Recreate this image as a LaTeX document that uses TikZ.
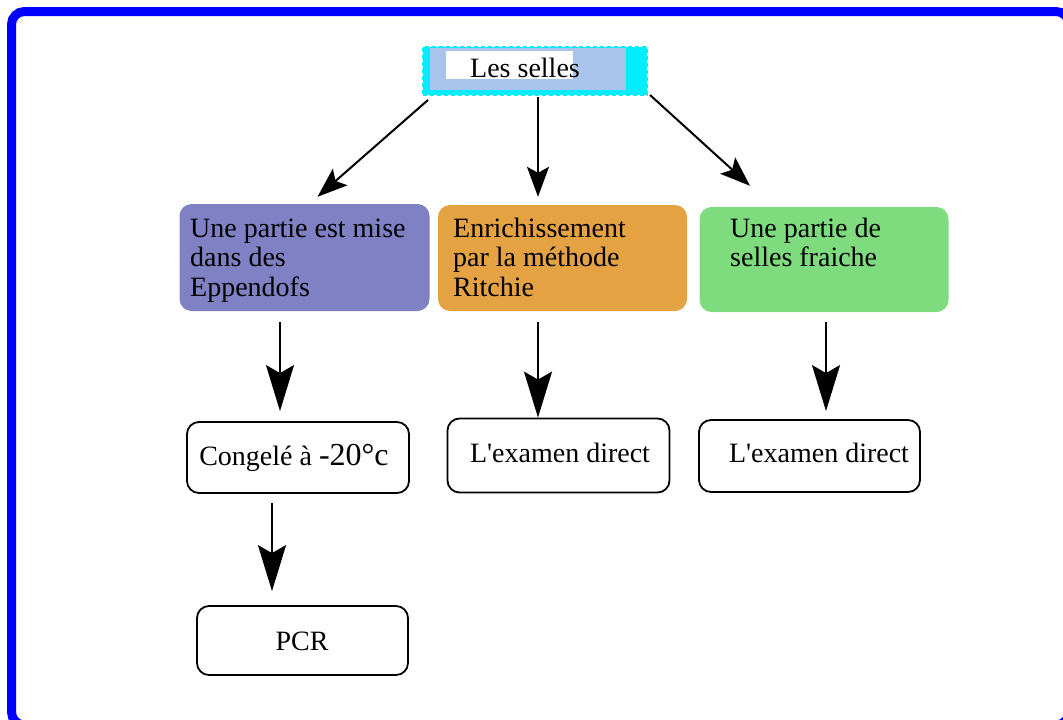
\documentclass[tikz,border=0pt]{standalone}
\usepackage{fontspec}
\setmainfont{Liberation Serif}[Ligatures=TeXOff]
\usetikzlibrary{arrows.meta}
\definecolor{frameblue}{RGB}{0,0,255}
\definecolor{cyanc}{RGB}{0,238,255}
\definecolor{lightbl}{RGB}{168,196,236}
\definecolor{purp}{RGB}{128,128,196}
\definecolor{orng}{RGB}{228,162,66}
\definecolor{grn}{RGB}{126,220,126}
\tikzset{
  cbox/.style={rounded corners=12pt, inner sep=0pt},
  wbox/.style={draw=black, line width=1.8pt, rounded corners=12pt, fill=white, inner sep=0pt},
  ctext/.style={anchor=north west, inner sep=0pt, align=left, font=\fontsize{28}{29.5}\selectfont},
  ltext/.style={anchor=base, inner sep=0pt, font=\fontsize{28}{30}\selectfont},
  arrS/.style={-{Stealth[length=30pt,width=22pt,inset=6pt]}, line width=2pt},
  arrL/.style={-{Stealth[length=46pt,width=28pt,inset=8pt]}, line width=2pt}
}
\begin{document}
\begin{tikzpicture}[x=1pt,y=-1pt]
\useasboundingbox (0,0) rectangle (1063,720);
\begin{scope}
\clip (0,0) rectangle (1063,720);
\draw[frameblue, line width=9pt, rounded corners=13pt] (11.5,11.5) rectangle (1069,725);
\end{scope}

% top box
\node[draw=cyanc, fill=cyanc, dash pattern=on 4pt off 3pt, line width=2pt,
      minimum width=224pt, minimum height=48pt, inner sep=0pt] (top) at (535,71) {};
\fill[lightbl] (430,48) rectangle (626,90);
\fill[white] (446,51) rectangle (573,79);
\node[ltext] (sel) at (525,77.5) {Les selles};

% coloured boxes
\node[cbox, fill=purp, minimum width=250pt, minimum height=107pt] (p) at (304.5,257.5) {};
\node[cbox, fill=orng, minimum width=249pt, minimum height=106pt] (o) at (562.5,258) {};
\node[cbox, fill=grn, minimum width=249pt, minimum height=105pt] (g) at (824,259.5) {};
\node[ctext] (pt) at (190,217) {\rule{0pt}{20pt}Une partie est mise\\dans des\\Eppendofs};
\node[ctext] (ot) at (453,217) {\rule{0pt}{20pt}Enrichissement\\par la méthode\\Ritchie};
\node[ctext] (gt) at (730,217) {\rule{0pt}{20pt}Une partie de\\selles fraiche};

% white boxes
\node[wbox, minimum width=222pt, minimum height=71pt] (c) at (298,457.5) {};
\node[wbox, minimum width=211pt, minimum height=69pt] (pcr) at (302.5,640.5) {};
\node[wbox, minimum width=222pt, minimum height=74pt] (e1) at (558.5,455.5) {};
\node[wbox, minimum width=221pt, minimum height=72pt] (e2) at (809.5,456) {};
\node[ltext] (ct) at (294,465) {Congelé à {\fontsize{32}{34}\selectfont -20°c}};
\node[ltext] (pcrt) at (302,650) {PCR};
\node[ltext] (e1t) at (560,462) {L'examen direct};
\node[ltext] (e2t) at (819,462) {L'examen direct};

% arrows
\draw[arrS] ([shift={(6,4)}]top.south west) -- ([shift={(13,-7)}]p.north);
\draw[arrS] ([shift={(3,1)}]top.south) -- ([shift={(-24.5,-8)}]o.north);
\draw[arrS] ([shift={(2,-1)}]top.south east) -- ([shift={(-74,-21)}]g.north);
\draw[arrL] ([shift={(-24.5,11)}]p.south) -- ([shift={(-18,-10)}]c.north);
\draw[arrL] ([shift={(-24.5,11)}]o.south) -- ([shift={(-20.5,0)}]e1.north);
\draw[arrL] ([shift={(2,10)}]g.south) -- ([shift={(16.5,-8)}]e2.north);
\draw[arrL] ([shift={(-26,9)}]c.south) -- ([shift={(-30.5,-14)}]pcr.north);
\end{tikzpicture}
\end{document}
